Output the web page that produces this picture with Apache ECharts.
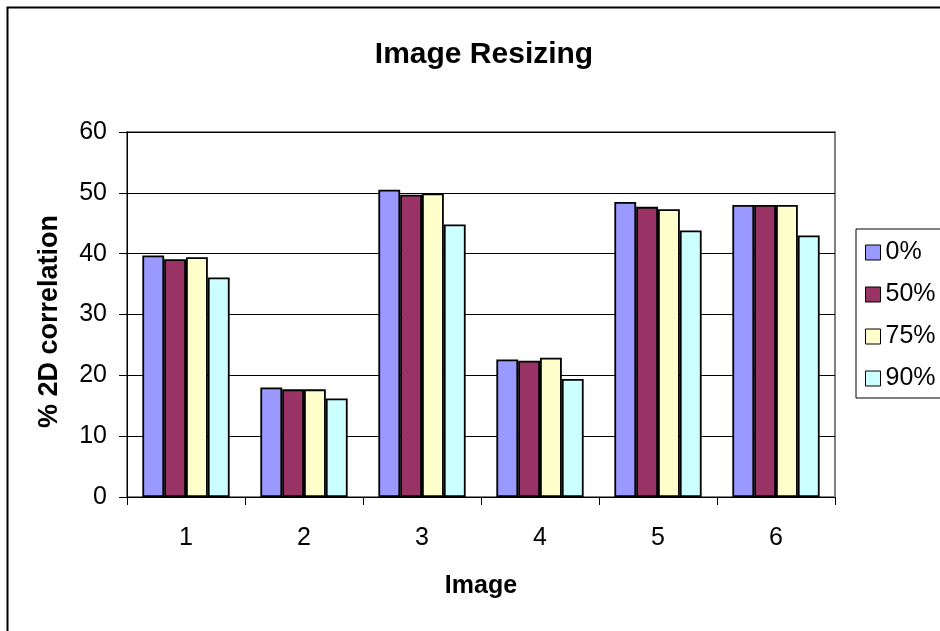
<!DOCTYPE html>
<html>
<head>
<meta charset="utf-8">
<script src="https://cdn.jsdelivr.net/npm/echarts@6/dist/echarts.min.js"></script>
<style>html,body{margin:0;padding:0;background:#fff}#c{width:940px;height:631px}</style>
</head>
<body>
<div id="c"></div>
<script>
var categories = ['1', '2', '3', '4', '5', '6'];
var seriesNames = ['0%', '50%', '75%', '90%'];
var s0 = [39.7, 18.0, 50.5, 22.6, 48.5, 48.0];
var s50 = [39.1, 17.7, 49.7, 22.4, 47.7, 48.0];
var s75 = [39.4, 17.7, 49.9, 22.9, 47.3, 48.0];
var s90 = [36.1, 16.2, 44.8, 19.4, 43.8, 43.0];
var colors = ['#9999FF', '#993366', '#FFFFCC', '#CCFFFF'];

var FONT = '"Liberation Sans", Arial, sans-serif';
var chart = echarts.init(document.getElementById('c'), null, {renderer: 'canvas'});
var allData = [s0, s50, s75, s90];
var series = allData.map(function (d, i) {
  return {
    name: seriesNames[i],
    type: 'bar',
    data: d,
    barGap: '0%',
    barCategoryGap: '26%',
    itemStyle: {color: colors[i], borderColor: '#000', borderWidth: 1.8},
    emphasis: {disabled: true}
  };
});
chart.setOption({
  animation: false,
  backgroundColor: '#fff',
  textStyle: {fontFamily: FONT},
  title: {
    text: 'Image Resizing',
    left: 479, top: 35, textAlign: 'center',
    textStyle: {fontFamily: FONT, fontSize: 30, fontWeight: 'bold', color: '#000'}
  },
  graphic: [{
    type: 'rect', shape: {x: 7.5, y: 7.5, width: 960, height: 660},
    style: {fill: null, stroke: '#000', lineWidth: 2}, silent: true, z: -1
  }],
  legend: {
    data: seriesNames,
    orient: 'vertical',
    left: 856, top: 229,
    padding: [11, 40, 7, 9],
    itemWidth: 15, itemHeight: 15, itemGap: 17,
    icon: 'rect',
    itemStyle: {borderColor: '#000', borderWidth: 1},
    borderColor: '#000', borderWidth: 1,
    textStyle: {fontFamily: FONT, fontSize: 25, color: '#000'}
  },
  grid: {
    left: 127, right: 105, top: 132, bottom: 134,
    show: true, borderColor: '#808080', borderWidth: 2, backgroundColor: 'transparent'
  },
  xAxis: {
    type: 'category', data: categories,
    name: 'Image', nameLocation: 'middle', nameGap: 77,
    nameTextStyle: {fontFamily: FONT, fontSize: 25, fontWeight: 'bold', color: '#000'},
    axisLine: {lineStyle: {color: '#000', width: 1}},
    axisTick: {show: true, inside: false, length: 8, lineStyle: {color: '#000'}},
    axisLabel: {fontFamily: FONT, fontSize: 25, color: '#000', margin: 29},
    splitLine: {show: false}
  },
  yAxis: {
    type: 'value', min: 0, max: 60, interval: 10,
    name: '% 2D correlation', nameLocation: 'middle', nameGap: 64,
    nameTextStyle: {fontFamily: FONT, fontSize: 27, fontWeight: 'bold', color: '#000', padding: [0, 14, 0, 0]},
    axisLine: {show: true, lineStyle: {color: '#000', width: 1}},
    axisTick: {show: true, inside: false, length: 8, lineStyle: {color: '#000'}},
    axisLabel: {fontFamily: FONT, fontSize: 25, color: '#000', margin: 20},
    splitLine: {show: true, lineStyle: {color: '#000', width: 1}}
  },
  series: series
});
</script>
</body>
</html>
